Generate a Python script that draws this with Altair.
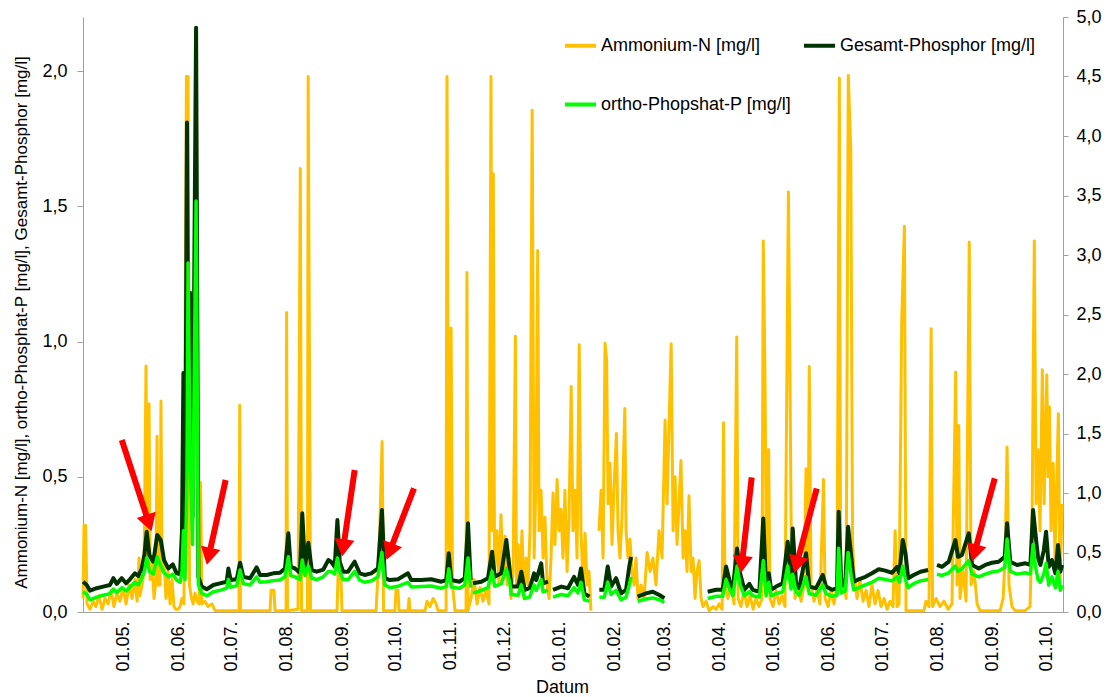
import altair as alt
import pandas as pd

# ---------------------------------------------------------------- data
# x values are days counted from 01.05.2010
BASE_DATE = "2010-05-01"

NH4_NAME = "Ammonium-N [mg/l]"
TP_NAME = "Gesamt-Phosphor [mg/l]"
OP_NAME = "ortho-Phopshat-P [mg/l]"
# legend grid is filled column by column: Ammonium / ortho in column 1, Gesamt in column 2
LEGEND_ORDER = [NH4_NAME, OP_NAME, TP_NAME]
LEGEND_COLORS = ["#FFC000", "#00FF00", "#003300"]

# Gesamt-Phosphor and ortho-Phosphat-P share the same sampling days (None = gap)
p_days = [
    -22.4, -20.4, -18.5, -14.8, -11.1, -7.3, -5.4, -3.5, -0.7, 1.7,
    3.9, 6.7, 8.6, 10.5, 12.0, 13.3, 14.8, 17.0, 19.2, 21.2,
    23.0, 25.4, 27.9, 30.1, 32.0, 33.1, 33.9, 34.8, 35.9, 36.5,
    37.6, 39.0, 41.0, 42.3, 44.2, 47.0, 50.7, 54.4, 58.2, 59.1,
    60.4, 63.8, 65.7, 67.5, 71.3, 75.0, 76.9, 80.6, 84.3, 88.1,
    90.9, 92.8, 94.1, 96.5, 99.3, 100.6, 102.1, 104.0, 105.9, 108.7,
    112.4, 115.2, 116.7, 118.8, 120.3, 121.6, 123.5, 126.3, 130.0, 132.8,
    135.6, 139.3, 143.1, 145.3, 146.9, 149.7, 154.3, 159.9, 161.8, 167.4,
    173.0, 178.6, 181.4, 182.8, 184.2, 188.9, 191.8, 193.6, 195.1, 195.6,
    196.4, 201.1, 204.8, 207.1, 208.6, 212.3, 215.1, 217.0, 217.9, 221.7,
    223.5, 225.4, 228.2, 230.7, 231.9, 234.7, 235.7, 238.5, 239.9, 241.3,
    246.0, 249.7, 253.1, 255.3, 257.0, 258.9, 261.7, 264.3, 267.3, 270.1,
    272.0, 273.9, 276.7, 279.5, 282.3, 284.1, 285.1, 286.8, 288.8, 293.5,
    297.3, 301.0, 303.8, 315.4, 328.1, 332.8, 336.5, 338.4, 340.3, 342.2,
    344.6, 346.3, 348.7, 351.5, 353.4, 357.1, 359.3, 360.9, 362.4, 363.7,
    366.5, 370.2, 373.0, 374.9, 375.8, 377.7, 379.5, 383.3, 385.1, 388.9,
    392.7, 394.5, 397.9, 400.7, 401.6, 403.1, 405.3, 406.9, 408.7, 410.1,
    412.9, 416.6, 420.3, 424.1, 427.8, 431.6, 434.4, 435.7, 437.6, 439.1,
    440.6, 443.7, 447.5, 451.8, 454.0, 456.8, 459.6, 463.4, 467.1, 468.6,
    470.8, 474.6, 476.5, 480.2, 483.9, 487.7, 491.4, 494.8, 496.1, 497.9,
    501.7, 506.4, 509.2, 510.7, 512.0, 513.5, 514.8, 516.7, 518.0, 519.5,
    521.3, 523.2, 524.7, 526.0, 527.0,
]

gesamt_p = [
    0.112, 0.100, 0.079, 0.088, 0.094, 0.100, 0.125, 0.104, 0.125, 0.106,
    0.121, 0.143, 0.133, 0.161, 0.211, 0.297, 0.211, 0.186, 0.285, 0.266,
    0.192, 0.161, 0.176, 0.143, 0.140, 0.300, 0.884, 0.200, 1.81, 1.00,
    1.18, 0.350, 2.16, 0.130, 0.094, 0.084, 0.100, 0.106, 0.112, 0.161,
    0.118, 0.121, 0.182, 0.130, 0.125, 0.165, 0.137, 0.137, 0.143, 0.145,
    0.161, 0.291, 0.167, 0.161, 0.145, 0.365, 0.167, 0.256, 0.155, 0.149,
    0.157, 0.192, 0.186, 0.167, 0.340, 0.186, 0.149, 0.149, 0.186, 0.143,
    0.137, 0.143, 0.161, 0.377, 0.125, 0.118, 0.121, 0.143, 0.118, 0.118,
    0.121, 0.112, 0.118, 0.217, 0.118, 0.112, 0.125, 0.328, 0.118, None,
    0.106, 0.112, 0.125, 0.223, 0.130, 0.143, 0.266, 0.155, 0.094, 0.094,
    0.149, 0.082, 0.088, 0.143, 0.118, 0.180, 0.106, 0.112, None, 0.082,
    0.094, 0.088, 0.130, 0.100, 0.161, 0.069, 0.057, None, 0.082, 0.082,
    0.168, 0.094, 0.125, 0.069, 0.082, 0.168, 0.204, None, 0.057, 0.069,
    0.075, 0.063, 0.051, None, 0.075, 0.082, 0.082, 0.168, 0.118, 0.082,
    0.235, 0.143, 0.082, 0.104, 0.082, 0.075, 0.346, 0.082, 0.143, 0.082,
    0.094, 0.106, 0.260, 0.118, 0.309, 0.106, 0.088, 0.217, 0.094, 0.088,
    0.137, 0.094, 0.082, 0.088, 0.371, 0.094, 0.106, 0.315, 0.204, 0.112,
    0.121, 0.130, 0.143, 0.158, 0.153, 0.145, 0.167, 0.143, 0.266, 0.217,
    0.125, 0.137, 0.149, 0.155, None, 0.174, 0.167, 0.186, 0.266, 0.204,
    0.211, 0.291, 0.174, 0.161, 0.174, 0.182, 0.186, 0.204, 0.328, 0.186,
    0.174, 0.180, 0.174, 0.377, 0.291, 0.200, 0.174, 0.227, 0.297, 0.167,
    0.192, 0.143, 0.248, 0.149, 0.174,
]

ortho_p = [
    0.075, 0.065, 0.045, 0.055, 0.062, 0.068, 0.085, 0.072, 0.090, 0.078,
    0.092, 0.110, 0.100, 0.125, 0.150, 0.200, 0.150, 0.140, 0.204, 0.170,
    0.145, 0.130, 0.140, 0.118, 0.110, 0.150, 0.300, 0.120, 0.500, 1.29,
    0.600, 0.250, 1.52, 0.100, 0.069, 0.060, 0.075, 0.080, 0.088, 0.120,
    0.092, 0.097, 0.155, 0.105, 0.100, 0.130, 0.110, 0.112, 0.116, 0.118,
    0.130, 0.204, 0.135, 0.130, 0.120, 0.192, 0.135, 0.170, 0.125, 0.120,
    0.130, 0.150, 0.150, 0.140, 0.200, 0.150, 0.120, 0.120, 0.150, 0.118,
    0.110, 0.115, 0.130, 0.220, 0.100, 0.090, 0.095, 0.110, 0.092, 0.094,
    0.096, 0.088, 0.094, 0.160, 0.092, 0.088, 0.100, 0.200, 0.090, None,
    0.070, 0.080, 0.090, 0.150, 0.095, 0.105, 0.160, 0.110, 0.065, 0.062,
    0.100, 0.050, 0.055, 0.100, 0.080, 0.120, 0.075, 0.080, None, 0.055,
    0.065, 0.060, 0.090, 0.070, 0.110, 0.045, 0.040, None, 0.055, 0.055,
    0.110, 0.065, 0.080, 0.045, 0.055, 0.100, 0.130, None, 0.040, 0.048,
    0.052, 0.045, 0.035, None, 0.050, 0.058, 0.058, 0.120, 0.085, 0.060,
    0.170, 0.100, 0.060, 0.075, 0.060, 0.055, 0.190, 0.060, 0.110, 0.060,
    0.068, 0.075, 0.170, 0.085, 0.140, 0.075, 0.062, 0.130, 0.068, 0.062,
    0.100, 0.068, 0.058, 0.062, 0.236, 0.070, 0.078, 0.220, 0.130, 0.082,
    0.090, 0.100, 0.110, 0.125, 0.120, 0.115, 0.130, 0.110, 0.170, 0.120,
    0.090, 0.105, 0.115, 0.120, None, 0.140, 0.135, 0.145, 0.170, 0.150,
    0.160, 0.190, 0.140, 0.130, 0.140, 0.148, 0.152, 0.165, 0.270, 0.150,
    0.140, 0.145, 0.140, 0.250, 0.170, 0.120, 0.110, 0.140, 0.180, 0.100,
    0.130, 0.090, 0.150, 0.080, 0.100,
]

# Ammonium-N: days and values (None = gap)
a_days = [
    -22.4, -21.9, -21.0, -20.2, -18.5, -16.8, -15.2, -13.5, -11.8, -10.1,
    -8.4, -6.7, -5.1, -3.4, -1.7, 0.0, 1.7, 3.4, 5.1, 6.7,
    7.9, 9.0, 9.5, 10.7, 11.8, 12.9, 13.5, 14.6, 15.2, 16.3,
    17.4, 18.5, 19.1, 19.6, 20.8, 21.3, 21.9, 23.0, 24.1, 25.3,
    26.4, 27.5, 28.6, 29.7, 30.9, 32.0, 33.1, 34.2, 35.1, 35.6,
    36.5, 37.3, 38.2, 39.3, 40.4, 41.5, 42.7, 43.5, 44.3, 46.0,
    47.7, 49.9, 51.6, 57.2, 63.4, 65.1, 65.5, 65.9, 74.1, 82.5,
    83.1, 84.7, 85.3, 91.5, 91.8, 92.3, 98.2, 99.5, 100.2, 103.5,
    103.9, 104.6, 105.2, 110.6, 116.2, 120.1, 120.7, 122.3, 122.9, 133.0,
    142.0, 143.7, 145.4, 146.2, 152.6, 153.2, 154.3, 154.9, 159.9, 160.5,
    161.1, 169.5, 170.6, 172.3, 174.0, 175.7, 176.8, 181.3, 181.8, 182.7,
    183.5, 184.1, 184.9, 186.3, 192.5, 193.0, 193.6, 195.3, 197.0, 198.7,
    200.3, 202.0, 203.7, 205.4, 206.5, 207.1, 207.8, 208.5, 209.9, 211.0,
    212.1, 213.3, 214.4, 215.5, 216.6, 217.7, 218.9, 220.2, 220.8, 221.7,
    222.8, 223.9, 225.0, 226.2, 227.3, 228.4, 229.6, 230.7, 231.8, 232.7,
    233.5, 234.6, 235.7, 236.8, 238.0, 239.1, 240.2, 241.3, 242.4, 243.6,
    244.7, 245.8, 246.9, 248.0, 249.2, 250.3, 251.5, 252.5, 253.7, 254.8,
    256.0, 257.0, 258.2, 259.3, 260.4, 261.5, 262.6, 263.8, 267.1, 268.3,
    269.4, 270.5, 271.4, 272.2, 273.3, 274.4, 275.5, 276.9, 277.8, 278.9,
    280.0, 281.6, 282.3, 283.4, 284.5, 285.6, 286.8, 287.9, 289.0, 290.7,
    292.4, 294.1, 295.8, 297.4, 299.1, 300.8, 302.5, 304.2, 305.3, 306.4,
    307.6, 308.7, 309.8, 310.9, 312.0, 313.1, 314.3, 315.4, 316.5, 317.6,
    318.8, 319.9, 321.0, 322.1, 323.3, 324.4, 325.5, 327.2, 328.9, 331.1,
    332.8, 334.5, 336.2, 337.0, 337.8, 339.5, 341.2, 342.9, 344.4, 345.2,
    346.8, 348.5, 350.2, 351.9, 353.6, 355.2, 356.9, 358.6, 359.3, 360.3,
    361.1, 362.3, 363.1, 364.8, 366.5, 368.2, 369.8, 371.5, 373.4, 374.3,
    375.2, 376.0, 377.1, 378.8, 380.5, 382.2, 383.3, 384.4, 385.1, 386.1,
    387.8, 389.5, 391.1, 393.1, 394.0, 395.7, 397.3, 399.0, 400.7, 402.0,
    402.7, 404.1, 405.8, 407.0, 408.4, 409.4, 410.2, 411.9, 413.6, 415.3,
    417.0, 418.6, 420.3, 422.0, 423.7, 425.4, 427.1, 428.8, 430.4, 432.1,
    433.3, 434.4, 435.5, 437.0, 438.5, 439.4, 444.5, 449.5, 450.6, 452.3,
    453.5, 454.3, 456.3, 458.5, 460.7, 463.0, 465.2, 467.3, 468.0, 469.0,
    469.7, 471.4, 473.1, 474.9, 475.9, 477.6, 479.3, 480.9, 486.6, 492.2,
    493.9, 495.0, 496.1, 497.2, 498.9, 500.6, 506.2, 509.0, 510.1, 511.4,
    512.4, 513.5, 514.6, 515.9, 516.9, 518.4, 519.1, 519.9, 520.8, 522.0,
    523.0, 524.9, 525.8, 527.0,
]

ammonium = [
    0.05, 0.32, 0.32, 0.03, 0.01, 0.04, 0.02, 0.06, 0.01, 0.05,
    0.03, 0.08, 0.02, 0.07, 0.04, 0.09, 0.03, 0.10, 0.05, 0.12,
    0.04, 0.20, 0.06, 0.10, 0.15, 0.91, 0.20, 0.77, 0.12, 0.18,
    0.05, 0.12, 0.65, 0.10, 0.10, 0.78, 0.15, 0.20, 0.05, 0.15,
    0.03, 0.12, 0.02, 0.01, 0.01, 0.02, 0.05, 0.03, 1.40, 1.98,
    1.98, 0.10, 0.06, 0.03, 0.07, 0.04, 0.03, 0.48, 0.03, 0.04,
    0.02, 0.03, 0.006, 0.005, 0.005, 0.005, 0.764, 0.005, 0.005, 0.005,
    0.08, 0.08, 0.005, 0.005, 1.107, 0.005, 0.01, 1.64, 0.005, 0.005,
    1.98, 0.97, 0.005, 0.005, 0.005, 0.005, 0.14, 0.12, 0.005, 0.005,
    0.005, 0.22, 0.63, 0.005, 0.005, 0.08, 0.08, 0.005, 0.005, 0.05,
    0.005, 0.005, 0.04, 0.02, 0.05, 0.03, 0.005, 0.005, 1.98, 0.30,
    0.20, 1.05, 0.10, 0.005, 0.005, 1.255, 0.005, 0.05, 0.12, 0.03,
    0.09, 0.04, 0.08, 0.03, 1.98, 0.30, 1.62, 0.15, 0.30, 0.10,
    0.36, 0.12, 0.28, 0.10, 0.20, 0.05, 0.15, 1.02, 0.10, 0.25,
    0.08, 0.30, 0.05, 0.20, 0.10, 0.30, 1.855, 0.20, 0.50, 1.337,
    0.30, 0.45, 0.20, 0.35, 0.10, 0.05, 0.20, 0.44, 0.25, 0.49,
    0.30, 0.38, 0.20, 0.45, 0.15, 0.35, 0.834, 0.30, 0.45, 0.20,
    0.988, 0.30, 0.10, 0.29, 0.10, 0.15, 0.005, None, 0.30, 0.45,
    0.20, 0.994, 0.93, 0.40, 0.55, 0.25, 0.45, 0.66, 0.30, 0.20,
    0.35, 0.752, 0.30, 0.20, 0.27, 0.15, 0.10, 0.20, 0.05, 0.10,
    0.05, 0.22, 0.15, 0.20, 0.10, 0.30, 0.20, 0.71, 0.40, 0.68,
    0.992, 0.30, 0.50, 0.25, 0.40, 0.56, 0.20, 0.30, 0.15, 0.43,
    0.15, 0.20, 0.05, 0.15, 0.19, 0.05, 0.02, 0.04, 0.005, 0.02,
    0.01, 0.03, 0.01, 0.70, 0.10, 0.05, 0.10, 0.03, 1.017, 0.05,
    0.02, 0.08, 0.02, 0.06, 0.01, 0.05, 0.02, 0.05, 1.372, 0.844,
    0.10, 0.60, 0.05, 0.02, 0.08, 0.03, 0.06, 0.02, 1.553, 0.869,
    0.10, 0.30, 0.05, 0.10, 0.04, 0.10, 0.53, 0.10, 0.908, 0.10,
    0.04, 0.08, 0.03, 0.49, 0.05, 0.02, 0.08, 0.03, 0.10, 1.974,
    0.10, 0.12, 0.05, 1.984, 1.709, 0.25, 0.15, 0.05, 0.12, 0.04,
    0.08, 0.02, 0.10, 0.03, 0.08, 0.02, 0.05, 0.01, 0.04, 0.02,
    0.30, 0.02, 0.03, 1.078, 1.426, 0.005, 0.005, 0.005, 0.04, 0.02,
    1.047, 0.02, 0.05, 0.02, 0.04, 0.01, 0.03, 0.887, 0.10, 0.69,
    0.05, 0.15, 0.04, 1.368, 0.10, 0.15, 0.03, 0.005, 0.005, 0.005,
    0.05, 0.20, 0.61, 0.10, 0.02, 0.005, 0.005, 0.02, 0.30, 1.372,
    0.40, 0.60, 0.30, 0.896, 0.40, 0.877, 0.50, 0.758, 0.30, 0.55,
    0.20, 0.733, 0.10, 0.40,
]

# red annotation arrows: tail and head (days, value), head rotation in degrees
arrow_tail_days = [-0.7, 57.6, 130.0, 163.3, 352.8, 389.3, 489.2]
arrow_tail_val = [0.636, 0.488, 0.525, 0.457, 0.498, 0.457, 0.494]
arrow_head_days = [14.5, 48.1, 123.6, 149.6, 347.3, 378.0, 477.8]
arrow_head_val = [0.329, 0.206, 0.237, 0.223, 0.176, 0.175, 0.218]
arrow_angle = [161.9, 192.6, 188.3, 201.1, 186.4, 194.8, 195.2]

left_ticks = [0.0, 0.5, 1.0, 1.5, 2.0]
right_ticks = [0.0, 0.5, 1.0, 1.5, 2.0, 2.5, 3.0, 3.5, 4.0, 4.5, 5.0]
month_ticks = [(2010, m) for m in range(5, 13)] + [(2011, m) for m in range(1, 11)]


# ---------------------------------------------------------------- tables
def as_dates(days):
    return pd.Timestamp(BASE_DATE) + pd.to_timedelta(pd.Series(days, dtype="float64"), unit="D")


def series_frame(days, values, name):
    return pd.DataFrame({
        "Datum": as_dates(days),
        "Wert": pd.Series(values, dtype="float64"),
        "Reihe": name,
    })


df_nh4 = series_frame(a_days, ammonium, NH4_NAME)
df_tp = series_frame(p_days, gesamt_p, TP_NAME)
df_op = series_frame(p_days, ortho_p, OP_NAME)

df_arrows = pd.DataFrame({
    "Datum": as_dates(arrow_tail_days),
    "Wert": arrow_tail_val,
    "Datum2": as_dates(arrow_head_days),
    "Wert2": arrow_head_val,
    "ang": arrow_angle,
})

# ---------------------------------------------------------------- encodings
FONT = "Liberation Sans"
AXIS_GRAY = "#a0a0a0"
GERMAN = "replace(format(datum.value, '.1f'), '.', ',')"

x_scale = alt.Scale(domain=[alt.DateTime(year=2010, month=4, date=8, hours=13),
                            alt.DateTime(year=2011, month=10, date=10, hours=12)])
x_axis = alt.Axis(
    title="Datum", format="%d.%m.", labelAngle=270, ticks=False, grid=False,
    values=[alt.DateTime(year=y, month=m, date=1) for y, m in month_ticks],
    labelPadding=9, labelFontSize=18, titleFontSize=18, titleFontWeight="normal",
    titleX=479, titleY=80, titleBaseline="alphabetic", titleAlign="center",
    domainColor=AXIS_GRAY, labelColor="black", titleColor="black",
)
y_scale = alt.Scale(domain=[0, 2.2], nice=False, zero=True)
y_axis = alt.Axis(
    title="Ammonium-N [mg/l], ortho-Phosphat-P [mg/l], Gesamt-Phosphor [mg/l]",
    values=left_ticks, labelExpr=GERMAN, grid=False, tickSize=6, labelPadding=10,
    labelFontSize=18, titleFontSize=17, titleFontWeight="normal",
    titleAngle=270, titleX=-62, titleY=305, titleAlign="center", titleBaseline="middle",
    domainColor=AXIS_GRAY, tickColor=AXIS_GRAY, labelColor="black", titleColor="black",
)

X = alt.X("Datum:T", scale=x_scale, axis=x_axis)
Y = alt.Y("Wert:Q", scale=y_scale, axis=y_axis)

legend = alt.Legend(
    title=None, orient="none", legendX=480, legendY=11, columns=2,
    columnPadding=4, rowPadding=32, padding=0,
    symbolType="stroke", symbolSize=961, symbolStrokeWidth=4,
    labelFontSize=18, labelLimit=400, labelOffset=3, labelColor="black",
)
COLOR = alt.Color("Reihe:N", scale=alt.Scale(domain=LEGEND_ORDER, range=LEGEND_COLORS), legend=legend)


def line_layer(df, width):
    return alt.Chart(df).mark_line(
        strokeWidth=width, strokeJoin="round", invalid="break-paths-filter-domains"
    ).encode(x=X, y=Y, color=COLOR)


arrow_shafts = alt.Chart(df_arrows).mark_rule(color="#FF0000", strokeWidth=6).encode(
    x=X, x2="Datum2:T", y=Y, y2="Wert2:Q"
)
arrow_heads = alt.Chart(df_arrows).mark_point(
    shape="triangle-up", size=400, filled=True, color="#FF0000", opacity=1
).encode(
    x=alt.X("Datum2:T", scale=x_scale, axis=x_axis),
    y=alt.Y("Wert2:Q", scale=y_scale, axis=y_axis),
    angle=alt.Angle("ang:Q", scale=None),
)

left = alt.layer(
    line_layer(df_nh4, 3), line_layer(df_tp, 4), line_layer(df_op, 3.5),
    arrow_shafts, arrow_heads,
)

right = alt.Chart(pd.DataFrame({"rechts": [0.0, 5.0]})).mark_point(opacity=0).encode(
    y=alt.Y("rechts:Q", scale=alt.Scale(domain=[0, 5], nice=False),
            axis=alt.Axis(orient="right", title=None, values=right_ticks, labelExpr=GERMAN,
                          grid=False, tickSize=5, labelPadding=8, labelFontSize=18,
                          domainColor=AXIS_GRAY, tickColor=AXIS_GRAY, labelColor="black"))
)

chart = alt.layer(left, right).resolve_scale(y="independent").properties(
    width=980, height=595,
    autosize=alt.AutoSizeParams(type="none"),
    padding={"left": 83, "top": 17, "right": 45, "bottom": 85},
).configure(font=FONT).configure_view(stroke=None).configure_axis(
    labelFont=FONT, titleFont=FONT
).configure_legend(labelFont=FONT)

chart.save("out.html", embed_options={"renderer": "svg", "actions": False})
